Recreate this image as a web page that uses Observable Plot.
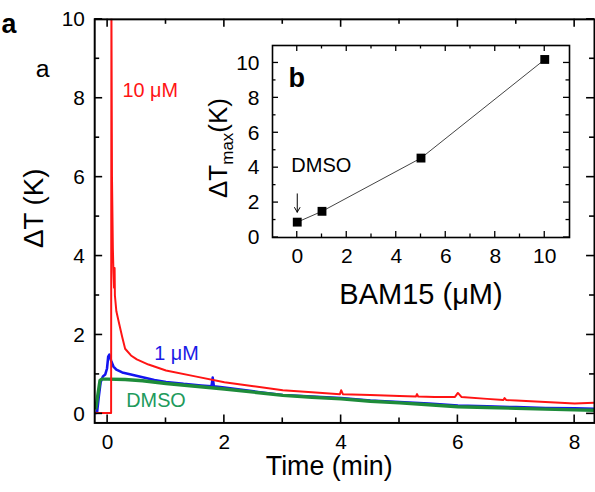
<!DOCTYPE html>
<html>
<head>
<meta charset="utf-8">
<script src="https://cdn.jsdelivr.net/npm/d3@7"></script>
<script src="https://cdn.jsdelivr.net/npm/@observablehq/plot@0.6"></script>
<style>
  html, body { margin: 0; padding: 0; background: #fff; overflow: hidden; }
  #wrap { position: relative; width: 595px; height: 492px; overflow: hidden; }
  #main { position: absolute; left: 0; top: 0; }
  #inset { position: absolute; left: 200px; top: 40px; }
  svg { display: block; }
</style>
</head>
<body>
<div id="wrap"><div id="main"></div><div id="inset"></div></div>
<script>
// ---- Temperature rise traces (time in min, ΔT in K) ----
const time10 = [-0.2, 0.0, 0.06, 0.065, 0.075, 0.09, 0.1, 0.11, 0.12, 0.125, 0.15, 0.2, 0.25, 0.3, 0.4, 0.5, 0.7, 1.0, 1.5, 2.0, 2.5, 3.0, 3.5, 3.98, 4.0, 4.03, 4.5, 5.0, 5.28, 5.3, 5.32, 5.6, 5.95, 6.0, 6.06, 6.5, 6.78, 6.8, 6.83, 7.0, 7.5, 8.0, 8.34];
const dT10   = [0.02, 0.02, 0.02, 10.5, 6.0, 4.2, 3.6, 3.2, 3.7, 3.0, 2.6, 2.27, 1.95, 1.65, 1.48, 1.38, 1.25, 1.1, 0.95, 0.8, 0.7, 0.6, 0.55, 0.5, 0.6, 0.5, 0.48, 0.45, 0.44, 0.5, 0.44, 0.43, 0.43, 0.53, 0.43, 0.38, 0.35, 0.4, 0.35, 0.34, 0.3, 0.26, 0.28];

const time1 = [-0.2, -0.18, -0.15, -0.12, -0.08, -0.04, -0.01, 0.01, 0.03, 0.06, 0.1, 0.15, 0.25, 0.4, 0.6, 0.8, 1.0, 1.3, 1.6, 1.78, 1.8, 1.82, 2.0, 2.5, 3.0, 3.5, 4.0, 4.5, 5.0, 5.5, 6.0, 6.5, 7.0, 7.5, 8.0, 8.34];
const dT1   = [0.02, 0.05, 0.45, 0.8, 0.95, 1.0, 1.15, 1.45, 1.5, 1.35, 1.2, 1.12, 1.05, 1.0, 0.93, 0.86, 0.81, 0.76, 0.72, 0.7, 0.92, 0.7, 0.67, 0.57, 0.48, 0.44, 0.4, 0.34, 0.3, 0.26, 0.21, 0.19, 0.17, 0.15, 0.14, 0.13];

const timeD = [-0.2, -0.17, -0.13, -0.1, 0.0, 0.3, 0.6, 1.0, 1.5, 2.0, 2.5, 3.0, 3.5, 4.0, 4.5, 5.0, 5.5, 6.0, 6.5, 7.0, 7.5, 8.0, 8.34];
const dTD   = [0.15, 0.45, 0.85, 0.88, 0.88, 0.87, 0.84, 0.77, 0.7, 0.63, 0.55, 0.47, 0.42, 0.38, 0.32, 0.28, 0.23, 0.18, 0.16, 0.14, 0.12, 0.1, 0.09];

// ---- Peak temperature rise vs BAM15 concentration ----
const bamConc = [0, 1, 5, 10];
const dTmax   = [0.88, 1.5, 4.55, 10.2];

// ---- Tick values ----
const timeMajor = [0, 2, 4, 6, 8];
const timeMinor = [1, 3, 5, 7];
const dTMajor = [0, 2, 4, 6, 8, 10];
const dTMinor = [1, 3, 5, 7, 9];
const concMajor = [0, 2, 4, 6, 8, 10];
const concMinor = [1, 3, 5, 7, 9];
const maxMajor = [0, 2, 4, 6, 8, 10];
const maxMinor = [1, 3, 5, 7, 9];

const FONT = '"Liberation Sans", Arial, Helvetica, sans-serif';
const RED = "#ff1414", BLUE = "#1414f0", GREEN = "#1e8c3a";

const toRows = (xs, ys) => xs.map((x, i) => ({x, y: ys[i]}));

// inward-pointing ticks on all four sides of a plot frame, placed with the plot's scales
function frameTicks(plot, xMaj, xMin, yMaj, yMin, major, minor, sw) {
  const sx = plot.scale("x"), sy = plot.scale("y");
  const [left, right] = sx.range;
  const [bottom, top] = sy.range;
  const g = d3.select(plot).append("g").attr("stroke", "black").attr("stroke-width", sw);
  const vx = (vals, len) => vals.forEach(v => {
    const px = sx.apply(v);
    g.append("line").attr("x1", px).attr("x2", px).attr("y1", bottom).attr("y2", bottom - len);
    g.append("line").attr("x1", px).attr("x2", px).attr("y1", top).attr("y2", top + len);
  });
  const hy = (vals, len) => vals.forEach(v => {
    const py = sy.apply(v);
    g.append("line").attr("y1", py).attr("y2", py).attr("x1", left).attr("x2", left + len);
    g.append("line").attr("y1", py).attr("y2", py).attr("x1", right).attr("x2", right - len);
  });
  vx(xMaj, major); vx(xMin, minor); hy(yMaj, major); hy(yMin, minor);
}

// ---- Main panel ----
const main = Plot.plot({
  width: 600, height: 492,
  marginLeft: 95, marginRight: 1, marginTop: 19, marginBottom: 66,
  style: {fontFamily: FONT, fontSize: "21px", color: "black", background: "transparent", overflow: "visible"},
  x: {domain: [-0.221, 8.34], ticks: timeMajor, tickSize: 0, tickPadding: 11, label: null},
  y: {domain: [-0.23, 10], ticks: dTMajor, tickSize: 0, tickPadding: 10, label: null},
  marks: [
    Plot.line(toRows(time1, dT1), {x: "x", y: "y", stroke: BLUE, strokeWidth: 2.6, clip: true}),
    Plot.line(toRows(timeD, dTD), {x: "x", y: "y", stroke: GREEN, strokeWidth: 3.4, clip: true}),
    Plot.line(toRows(time10, dT10), {x: "x", y: "y", stroke: RED, strokeWidth: 2, clip: true}),
    Plot.frame({stroke: "black", strokeWidth: 2}),
    Plot.text(["10 μM"], {x: 0.255, y: 8.03, text: d => d, fill: RED, fontSize: 20, textAnchor: "start", lineAnchor: "bottom"}),
    Plot.text(["1 μM"], {x: 0.8, y: 1.36, text: d => d, fill: "#1a1ae6", fontSize: 20, textAnchor: "start", lineAnchor: "bottom"}),
    Plot.text(["DMSO"], {x: 0.32, y: 0.18, text: d => d, fill: "#219a5c", fontSize: 20, textAnchor: "start", lineAnchor: "bottom"})
  ]
});
frameTicks(main, timeMajor, timeMinor, dTMajor, dTMinor, 8, 5, 1.6);
const ms = d3.select(main).style("font-family", FONT);
ms.append("text").attr("x", 9).attr("y", 33).attr("font-size", 27).attr("font-weight", "bold").text("a");
ms.append("text").attr("x", 43).attr("y", 78).attr("font-size", 25).text("a");
ms.append("text").attr("transform", "translate(43,210) rotate(-90)").attr("text-anchor", "middle")
  .attr("font-size", 28).text("ΔT (K)");
ms.append("text").attr("x", 332).attr("y", 479).attr("text-anchor", "middle").attr("font-size", 27).text("Time (min)");
document.getElementById("main").appendChild(main);

// ---- Inset panel ----
const inset = Plot.plot({
  width: 380, height: 280,
  marginLeft: 72, marginRight: 11, marginTop: 5, marginBottom: 83,
  style: {fontFamily: FONT, fontSize: "21px", color: "black", background: "transparent", overflow: "visible"},
  x: {domain: [-1, 11], ticks: concMajor, tickSize: 0, tickPadding: 11, label: null},
  y: {domain: [0, 11], ticks: maxMajor, tickSize: 0, tickPadding: 13, label: null},
  marks: [
    Plot.frame({fill: "white"}),
    Plot.line(toRows(bamConc, dTmax), {x: "x", y: "y", stroke: "#444", strokeWidth: 1}),
    Plot.dot(toRows(bamConc, dTmax), {x: "x", y: "y", symbol: "square", r: 5, fill: "black", stroke: "none"}),
    Plot.arrow([0], {x1: 0, y1: 2.5, x2: 0, y2: 1.45, headLength: 8, stroke: "black", strokeWidth: 1}),
    Plot.text(["DMSO"], {x: -0.24, y: 3.74, text: d => d, fontSize: 20, textAnchor: "start", lineAnchor: "bottom"}),
    Plot.text(["b"], {frameAnchor: "top-left", dx: 16, dy: 41, text: d => d, fontSize: 27, fontWeight: "bold", textAnchor: "start", lineAnchor: "bottom"}),
    Plot.text(["BAM15 (μM)"], {frameAnchor: "bottom", dy: 66, text: d => d, fontSize: 29, lineAnchor: "bottom"}),
    Plot.frame({stroke: "black", strokeWidth: 1.6})
  ]
});
frameTicks(inset, concMajor, concMinor, maxMajor, maxMinor, 6, 3.5, 1.3);
const yTitle = d3.select(inset).append("text")
  .attr("transform", "translate(27,108) rotate(-90)")
  .attr("text-anchor", "middle").attr("font-size", 26).style("font-family", FONT);
yTitle.append("tspan").text("ΔT");
yTitle.append("tspan").attr("font-size", 17).attr("dy", 6).text("max");
yTitle.append("tspan").attr("dy", -6).text("(K)");
document.getElementById("inset").appendChild(inset);
</script>
</body>
</html>
